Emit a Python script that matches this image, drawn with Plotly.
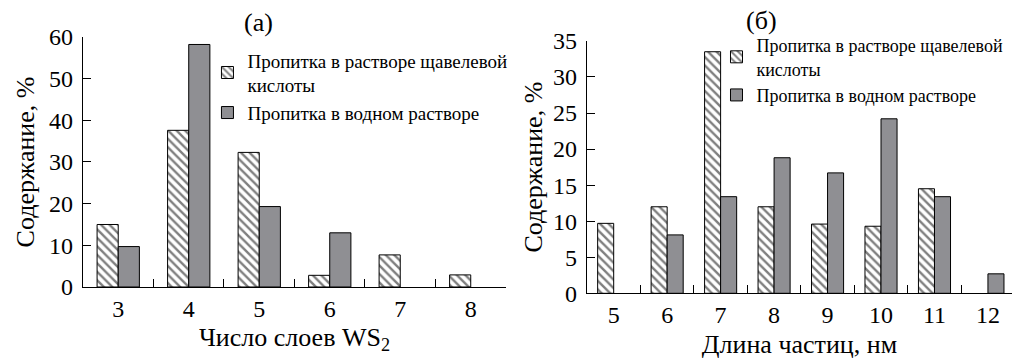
import plotly.graph_objects as go

# Panel (a)
layers = ["3", "4", "5", "6", "7", "8"]
a_oxalic = [15.0, 37.6, 32.3, 2.8, 7.7, 2.9]
a_water = [9.7, 58.2, 19.3, 13.0, None, None]
a_yticks = [0, 10, 20, 30, 40, 50, 60]

# Panel (б)
lengths = ["5", "6", "7", "8", "9", "10", "11", "12"]
b_oxalic = [9.7, 12.0, 33.5, 12.0, 9.6, 9.3, 14.5, None]
b_water = [None, 8.1, 13.4, 18.8, 16.7, 24.2, 13.4, 2.7]
b_yticks = [0, 5, 10, 15, 20, 25, 30, 35]

name_ox = "Пропитка в растворе щавелевой<br>кислоты"
name_w = "Пропитка в водном растворе"

FONT = "Liberation Serif"
GRAY = "#8f8f93"

hatch = dict(shape="\\", fgcolor="black", bgcolor="white", size=6, solidity=0.4)

fig = go.Figure()
fig.add_trace(go.Bar(x=layers, y=a_oxalic, name=name_ox, xaxis="x", yaxis="y",
                     marker=dict(color="white", pattern=hatch, line=dict(color="black", width=1)),
                     legend="legend"))
fig.add_trace(go.Bar(x=layers, y=a_water, name=name_w, xaxis="x", yaxis="y",
                     marker=dict(color=GRAY, line=dict(color="black", width=1)),
                     legend="legend"))
fig.add_trace(go.Bar(x=lengths, y=b_oxalic, name=name_ox, xaxis="x2", yaxis="y2",
                     marker=dict(color="white", pattern=hatch, line=dict(color="black", width=1)),
                     legend="legend2"))
fig.add_trace(go.Bar(x=lengths, y=b_water, name=name_w, xaxis="x2", yaxis="y2",
                     marker=dict(color=GRAY, line=dict(color="black", width=1)),
                     legend="legend2"))

axis_common = dict(showline=True, linecolor="black", linewidth=1.2, ticks="inside",
                   ticklen=8, tickcolor="black", showgrid=False, zeroline=False,
                   automargin=False,
                   tickfont=dict(family=FONT, size=24, color="black"))

fig.update_layout(
    width=1012, height=359,
    margin=dict(l=0, r=0, t=0, b=0, autoexpand=False),
    paper_bgcolor="white", plot_bgcolor="white",
    barmode="group", bargap=0.4, bargroupgap=0,
    font=dict(family=FONT, color="black"),
    xaxis=dict(domain=[0.082, 0.5], anchor="y", type="category", tickson="boundaries",
               range=[-0.5, 5.5],
               title=dict(text="Число слоев WS<sub>2</sub>", font=dict(family=FONT, size=26), standoff=6),
               **axis_common),
    yaxis=dict(domain=[0.2006, 0.897], anchor="x", range=[0, 60], tickvals=a_yticks,
               ticklabelstandoff=4,
               title=dict(text="Содержание, %", font=dict(family=FONT, size=26), standoff=6),
               **axis_common),
    xaxis2=dict(domain=[0.58, 1.0], anchor="y2", type="category", tickson="boundaries",
                range=[-0.5, 7.45],
                title=dict(text="Длина частиц, нм", font=dict(family=FONT, size=26), standoff=10),
                **axis_common),
    yaxis2=dict(domain=[0.183, 0.886], anchor="x2", range=[0, 35], tickvals=b_yticks,
                ticklabelstandoff=4,
                title=dict(text="Содержание, %", font=dict(family=FONT, size=26), standoff=2),
                **axis_common),
    legend=dict(x=0.205, y=0.885, xanchor="left", yanchor="top", bgcolor="rgba(0,0,0,0)",
                font=dict(family=FONT, size=19), itemwidth=30, tracegroupgap=0),
    legend2=dict(x=0.708, y=0.925, xanchor="left", yanchor="top", bgcolor="rgba(0,0,0,0)",
                 font=dict(family=FONT, size=18), itemwidth=30, tracegroupgap=0),
    annotations=[
        dict(text="(a)", x=0.255, y=0.936, xref="paper", yref="paper", showarrow=False,
             xanchor="center", yanchor="middle", font=dict(family=FONT, size=26)),
        dict(text="(б)", x=0.752, y=0.942, xref="paper", yref="paper", showarrow=False,
             xanchor="center", yanchor="middle", font=dict(family=FONT, size=26)),
    ],
)

fig.write_html("out.html", config={"displayModeBar": False},
               post_script="document.body.style.margin='0';")
